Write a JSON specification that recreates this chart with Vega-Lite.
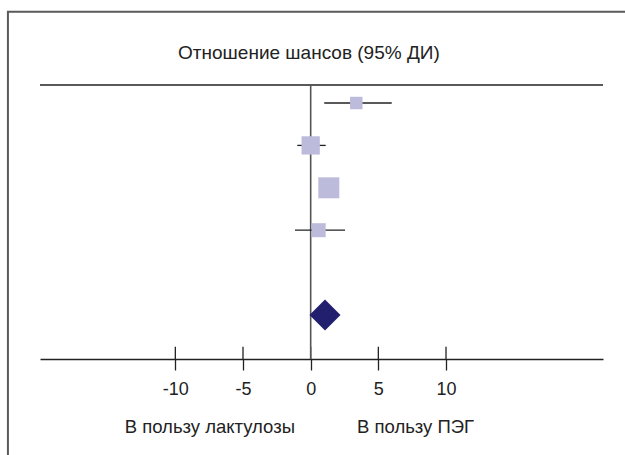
{
  "$schema": "https://vega.github.io/schema/vega-lite/v6.json",
  "width": 563,
  "height": 274,
  "autosize": {"type": "none"},
  "padding": {"left": 40, "top": 85, "right": 22, "bottom": 96},
  "background": "white",
  "config": {"view": {"stroke": null}, "font": "Liberation Sans"},
  "layer": [
    {
      "data": {"values": [{"t": -10}, {"t": -5}, {"t": 0}, {"t": 5}, {"t": 10}]},
      "mark": {"type": "rule", "color": "#222", "strokeWidth": 1.3},
      "encoding": {
        "x": {"field": "t", "type": "quantitative", "title": null, "scale": {"domain": [-20, 21.6], "nice": false, "zero": false}, "axis": {"values": [-10, -5, 0, 5, 10], "labelExpr": "replace(datum.label, '−', '-')", "title": null, "domainColor": "#222", "domainWidth": 1.5, "tickColor": "#222", "tickWidth": 1.3, "tickSize": 11, "labelFontSize": 18, "labelColor": "#222", "labelPadding": 10, "labelFont": "Liberation Sans", "grid": false}},
        "y": {"datum": 6.747, "type": "quantitative", "scale": {"domain": [0.575, 7.038], "reverse": true, "nice": false, "zero": false}, "axis": null},
        "y2": {"datum": 7.038}
      }
    },
    {
      "data": {"values": [{}]},
      "mark": {"type": "rect", "fill": null, "stroke": "#5a5a5a", "strokeWidth": 2},
      "encoding": {
        "x": {"datum": -22.37, "type": "quantitative"},
        "x2": {"datum": 30},
        "y": {"datum": -1.15, "type": "quantitative"},
        "y2": {"datum": 10}
      }
    },
    {
      "data": {"values": [{"label": "Отношение шансов (95% ДИ)", "pos": -0.13, "row": -0.038}]},
      "mark": {"type": "text", "fontSize": 19, "baseline": "alphabetic", "align": "center", "color": "#222", "font": "Liberation Sans"},
      "encoding": {
        "x": {"field": "pos", "type": "quantitative", "title": null},
        "y": {"field": "row", "type": "quantitative", "title": null},
        "text": {"field": "label"}
      }
    },
    {
      "data": {"values": [{}]},
      "mark": {"type": "rule", "color": "#222", "strokeWidth": 1.5},
      "encoding": {"y": {"datum": 0.575, "type": "quantitative"}}
    },
    {
      "data": {"values": [{}]},
      "mark": {"type": "rule", "color": "#555", "strokeWidth": 1.6},
      "encoding": {"x": {"datum": 0, "type": "quantitative"}}
    },
    {
      "data": {"name": "studies", "values": [
        {"row": 1, "est": 3.37, "lo": 1.0, "hi": 5.99, "weight": 13.8},
        {"row": 2, "est": 0.0, "lo": -0.99, "hi": 1.11, "weight": 29.7},
        {"row": 3, "est": 1.34, "lo": 0.9, "hi": 1.8, "weight": 39.1},
        {"row": 4, "est": 0.59, "lo": -1.16, "hi": 2.54, "weight": 17.4}
      ]},
      "layer": [
        {
          "mark": {"type": "rule", "color": "#222", "strokeWidth": 1.3},
          "encoding": {
            "x": {"field": "lo", "type": "quantitative", "title": null},
            "x2": {"field": "hi"},
            "y": {"field": "row", "type": "quantitative", "title": null}
          }
        },
        {
          "mark": {"type": "point", "shape": "square", "filled": true, "color": "#bcbbdc", "opacity": 1, "strokeWidth": 0},
          "encoding": {
            "x": {"field": "est", "type": "quantitative", "title": null},
            "y": {"field": "row", "type": "quantitative", "title": null},
            "size": {"field": "weight", "type": "quantitative", "scale": {"domain": [0, 40], "range": [0, 451.2]}, "legend": null}
          }
        }
      ]
    },
    {
      "data": {"values": [{"row": 6, "est": 1.06}]},
      "mark": {"type": "point", "shape": "diamond", "filled": true, "color": "#211f6e", "opacity": 1, "size": 961, "strokeWidth": 0},
      "encoding": {
        "x": {"field": "est", "type": "quantitative", "title": null},
        "y": {"field": "row", "type": "quantitative", "title": null}
      }
    },
    {
      "data": {"values": [{"label": "В пользу лактулозы", "pos": -7.45}, {"label": "В пользу ПЭГ", "pos": 7.75}]},
      "mark": {"type": "text", "fontSize": 18.5, "baseline": "alphabetic", "align": "center", "color": "#222", "font": "Liberation Sans"},
      "encoding": {
        "x": {"field": "pos", "type": "quantitative", "title": null},
        "y": {"datum": 8.78, "type": "quantitative"},
        "text": {"field": "label"}
      }
    }
  ]
}
